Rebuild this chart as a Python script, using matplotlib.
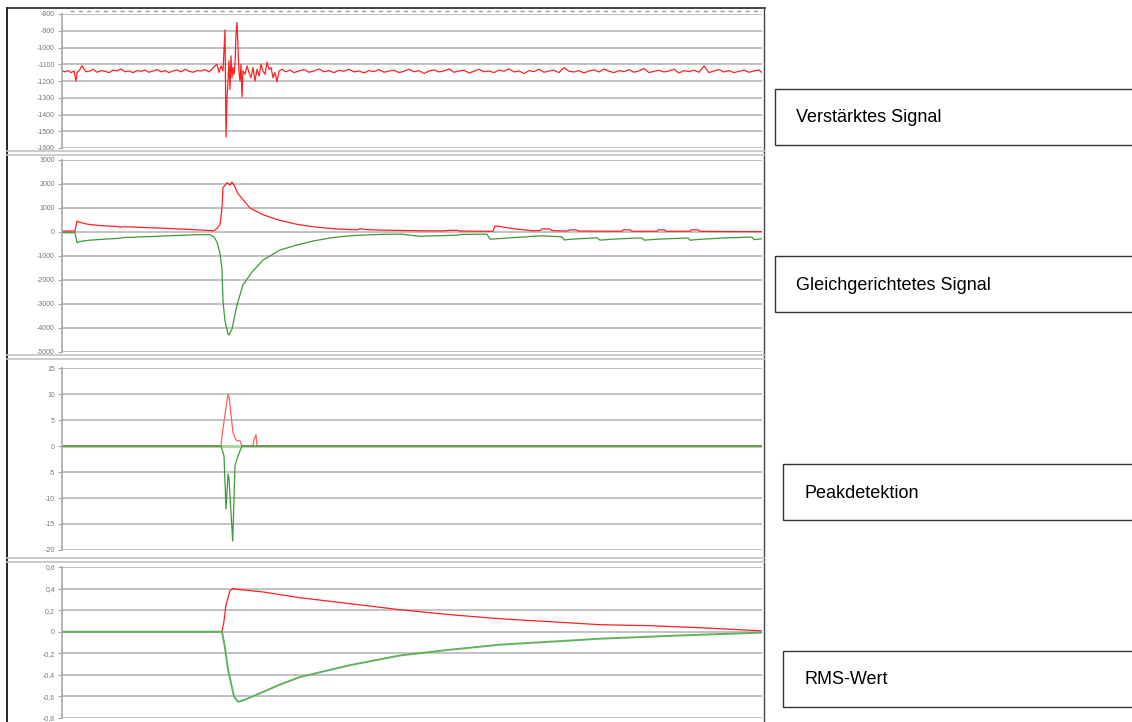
import matplotlib
matplotlib.use('Agg')
import matplotlib.pyplot as plt
from matplotlib.patches import Rectangle

plt.rcParams['font.family'] = ['Liberation Sans', 'DejaVu Sans']

W, H = 1132, 722

# ---- data (sample index 0..700) ----
# Verstaerktes Signal
amp_t = [0, 3, 6, 9, 12, 14, 15, 17, 20, 24, 28, 31, 35, 39, 43, 47, 51, 55, 59, 63,
         67, 71, 75, 79, 83, 87, 91, 95, 99, 103, 107, 111, 115, 119, 123, 127, 131, 135,
         139, 143, 147, 150, 152, 155, 157, 159, 161, 163, 164, 165, 166, 167, 168, 169,
         170, 171, 172, 173, 174, 175, 176, 177, 178, 179, 180, 181, 183, 185, 187, 189,
         191, 193, 195, 197, 199, 201, 203, 205, 207, 209, 211, 213, 215, 217, 220, 224,
         228, 232, 237, 242, 247, 252, 257, 262, 267, 272, 277, 282, 287, 292, 297, 302,
         307, 312, 317, 322, 327, 332, 337, 342, 347, 352, 357, 362, 367, 372, 377, 382,
         387, 392, 397, 402, 407, 412, 417, 422, 427, 432, 437, 442, 447, 452, 457, 462,
         467, 472, 477, 482, 487, 492, 497, 502, 507, 512, 517, 522, 527, 532, 537, 542,
         547, 552, 557, 562, 567, 572, 577, 582, 587, 592, 597, 602, 607, 612, 617, 622,
         627, 632, 637, 642, 647, 652, 657, 662, 667, 672, 677, 682, 687, 692, 697, 700]
amp_v = [-1140, -1145, -1138, -1150, -1140, -1200, -1150, -1140, -1110, -1145, -1140, -1130,
         -1148, -1138, -1142, -1150, -1135, -1140, -1128, -1145, -1140, -1150, -1138, -1142,
         -1135, -1148, -1140, -1132, -1145, -1138, -1150, -1140, -1135, -1145, -1130, -1142,
         -1148, -1138, -1140, -1132, -1145, -1130, -1115, -1100, -1150, -1110, -1140, -895,
         -1535, -1300, -1200, -1080, -1250, -1050, -1180, -1120, -1160, -1100, -920, -850,
         -1000, -1150, -1200, -1100, -1295, -1140, -1160, -1110, -1150, -1180, -1120, -1200,
         -1130, -1170, -1100, -1140, -1160, -1087, -1130, -1120, -1180, -1150, -1205, -1140,
         -1130, -1145, -1135, -1150, -1140, -1132, -1148, -1140, -1128, -1145, -1138, -1150,
         -1136, -1142, -1130, -1146, -1140, -1152, -1138, -1144, -1132, -1148, -1140, -1136,
         -1150, -1142, -1130, -1145, -1138, -1155, -1140, -1134, -1146, -1140, -1128, -1148,
         -1140, -1136, -1152, -1142, -1130, -1145, -1140, -1150, -1135, -1142, -1128, -1146,
         -1140, -1155, -1138, -1144, -1130, -1148, -1140, -1136, -1150, -1120, -1142, -1146,
         -1138, -1152, -1140, -1134, -1146, -1128, -1142, -1150, -1138, -1144, -1132, -1148,
         -1140, -1125, -1150, -1142, -1136, -1146, -1140, -1130, -1152, -1138, -1144, -1135,
         -1148, -1110, -1150, -1140, -1132, -1146, -1138, -1150, -1142, -1136, -1148, -1140,
         -1134, -1150]

# Gleichgerichtetes Signal
rect_pos_t = [0, 13, 15, 17, 20, 25, 30, 35, 40, 45, 50, 55, 58, 62, 70, 80, 90, 100, 110,
              120, 130, 140, 148, 152, 155, 158, 160, 161, 163, 165, 167, 168, 170, 172, 176,
              181, 188, 195, 201, 210, 218, 227, 235, 244, 251, 260, 268, 276, 285, 295, 298,
              300, 305, 318, 330, 345, 360, 380, 388, 395, 398, 420, 431, 433, 436, 445, 455,
              465, 470, 478, 480, 488, 490, 505, 508, 514, 516, 560, 561, 568, 570, 595, 596,
              602, 604, 628, 629, 636, 638, 660, 675, 700]
rect_pos_v = [40, 40, 450, 420, 380, 330, 300, 280, 260, 250, 240, 230, 200, 220, 210, 190,
              175, 160, 140, 120, 100, 80, 60, 50, 150, 300, 1000, 1850, 1950, 2050, 2000,
              1950, 2080, 1950, 1600, 1350, 1000, 850, 720, 590, 480, 400, 320, 260, 220, 180,
              150, 125, 105, 90, 140, 130, 100, 80, 70, 60, 50, 45, 70, 70, 40, 30, 30, 250,
              240, 180, 120, 80, 50, 60, 130, 130, 60, 40, 90, 90, 40, 30, 90, 90, 30, 30, 90,
              90, 30, 30, 90, 90, 30, 20, 20, 15]
rect_neg_t = [0, 13, 15, 18, 22, 28, 35, 42, 50, 58, 62, 70, 80, 90, 100, 110, 120, 130, 140,
              148, 152, 155, 158, 160, 161, 163, 165, 166, 167, 170, 175, 181, 190, 201, 210,
              218, 227, 235, 244, 251, 260, 268, 276, 285, 295, 301, 318, 340, 358, 362, 380,
              395, 400, 425, 428, 432, 445, 465, 470, 480, 500, 502, 510, 530, 535, 538, 550,
              570, 580, 582, 595, 620, 626, 628, 640, 660, 690, 692, 700]
rect_neg_v = [-30, -30, -440, -400, -370, -340, -320, -300, -280, -260, -230, -220, -200, -190,
              -170, -150, -140, -120, -110, -110, -200, -420, -900, -1540, -2900, -3700, -4080,
              -4250, -4290, -4040, -3040, -2200, -1670, -1170, -950, -750, -640, -540, -450,
              -375, -310, -250, -210, -170, -140, -130, -100, -90, -180, -170, -150, -130, -100,
              -90, -300, -290, -250, -200, -180, -160, -200, -330, -300, -250, -240, -340, -300,
              -260, -250, -340, -300, -260, -250, -340, -300, -250, -210, -320, -280]

# Peakdetektion
peak_pos_t = [0, 159, 160, 163, 166, 167, 169, 171, 173, 175, 178, 180, 191, 192, 194, 195, 700]
peak_pos_v = [0, 0, 2, 6, 9.9, 9.5, 6, 2.6, 1.5, 1, 1, 0, 0, 1.2, 2.2, 0, 0]
peak_neg_t = [0, 159, 162, 164, 166, 167, 170.7, 173, 176, 180, 700]
peak_neg_v = [0, 0, -1.9, -12.1, -5.4, -6.4, -18.3, -3.8, -1.9, 0, 0]

# RMS-Wert
rms_pos_t = [0, 160, 162, 164, 168, 171, 178, 200, 238, 288, 338, 388, 438, 488, 538, 588,
             638, 698, 700]
rms_pos_v = [0, 0, 0.1, 0.25, 0.38, 0.40, 0.39, 0.37, 0.315, 0.26, 0.204, 0.158, 0.12, 0.093,
             0.065, 0.056, 0.037, 0.009, 0.008]
rms_neg_t = [0, 160, 163, 166, 172, 176, 183, 198, 218, 238, 288, 338, 388, 438, 488, 538,
             588, 638, 698, 700]
rms_neg_v = [0, 0, -0.15, -0.35, -0.6, -0.65, -0.63, -0.57, -0.49, -0.42, -0.31, -0.22, -0.167,
             -0.12, -0.093, -0.065, -0.046, -0.028, -0.009, -0.008]

amp_ticks = [-800, -900, -1000, -1100, -1200, -1300, -1400, -1500, -1600]
rect_ticks = [3000, 2000, 1000, 0, -1000, -2000, -3000, -4000, -5000]
peak_ticks = [15, 10, 5, 0, -5, -10, -15, -20]
rms_ticks = [0.6, 0.4, 0.2, 0, -0.2, -0.4, -0.6, -0.8]
rms_labels = ['0,6', '0,4', '0,2', '0', '-0,2', '-0,4', '-0,6', '-0,8']

RED = '#ff2020'
GREEN = '#3c9a3c'

fig = plt.figure(figsize=(W / 100, H / 100), dpi=100)
fig.patch.set_facecolor('white')


def panel(y_top, y_bot, ticks, labels):
    ax = fig.add_axes([62 / W, 1 - y_bot / H, 700 / W, (y_bot - y_top) / H])
    ax.set_xlim(0, 700)
    ax.set_ylim(min(ticks), max(ticks))
    ax.set_yticks(ticks)
    ax.set_yticklabels(labels, fontsize=5, color='#777777')
    ax.set_xticks([])
    ax.grid(axis='y', color='#bdbdbd', lw=1.3)
    ax.set_axisbelow(True)
    for s in ['top', 'right', 'bottom']:
        ax.spines[s].set_visible(False)
    ax.spines['left'].set_color('#a8a8a8')
    ax.spines['left'].set_linewidth(1.2)
    ax.tick_params(axis='y', length=3, color='#a8a8a8', pad=2)
    ax.patch.set_alpha(0)
    return ax


ax1 = panel(14, 148, amp_ticks, [str(v) for v in amp_ticks])
ax1.plot(amp_t, amp_v, color=RED, lw=0.9)

ax2 = panel(160, 352, rect_ticks, [str(v) for v in rect_ticks])
ax2.plot(rect_pos_t, rect_pos_v, color=RED, lw=0.9)
ax2.plot(rect_neg_t, rect_neg_v, color=GREEN, lw=0.9)

ax3 = panel(368, 550, peak_ticks, [str(v) for v in peak_ticks])
ax3.plot(peak_pos_t, peak_pos_v, color='#ff6060', lw=0.9)
ax3.plot(peak_neg_t, peak_neg_v, color=GREEN, lw=0.9)
ax3.axhline(0, color='#a9d8a9', lw=2.2, zorder=1.5)

ax4 = panel(567, 718, rms_ticks, rms_labels)
ax4.plot(rms_pos_t, rms_pos_v, color=RED, lw=0.9)
ax4.plot(rms_neg_t, rms_neg_v, color='#5fb35f', lw=1.4)

# overlay for frame, separators and label boxes
ov = fig.add_axes([0, 0, 1, 1], zorder=-1)
ov.set_xlim(0, W)
ov.set_ylim(H, 0)
ov.axis('off')

ov.plot([7, 7], [8, H], color='black', lw=1.2)
ov.plot([7, 765], [8, 8], color='#222222', lw=1.2)
ov.plot([764, 764], [8, H], color='#444444', lw=1.0)
ov.plot([70, 760], [11, 11], color='#a0a0a0', lw=1.0, dashes=(3, 3))
for y in [151, 154.5, 355, 358.5, 558, 561.5]:
    ov.plot([7, 764], [y, y], color='#c4c4c4', lw=1.2)

boxes = [(775, 89, 145, 796, 'Verstärktes Signal'),
         (775, 256, 312, 796, 'Gleichgerichtetes Signal'),
         (783, 464, 520, 804, 'Peakdetektion'),
         (783, 651, 707, 804, 'RMS-Wert')]
for x0, y0, y1, tx, txt in boxes:
    ov.add_patch(Rectangle((x0, y0), W + 10 - x0, y1 - y0, fill=False,
                           edgecolor='#333333', lw=1.0))
    ov.text(tx, (y0 + y1) / 2 + 1, txt, fontsize=13, ha='left', va='center', color='black')

fig.savefig('out.png', dpi=100)
